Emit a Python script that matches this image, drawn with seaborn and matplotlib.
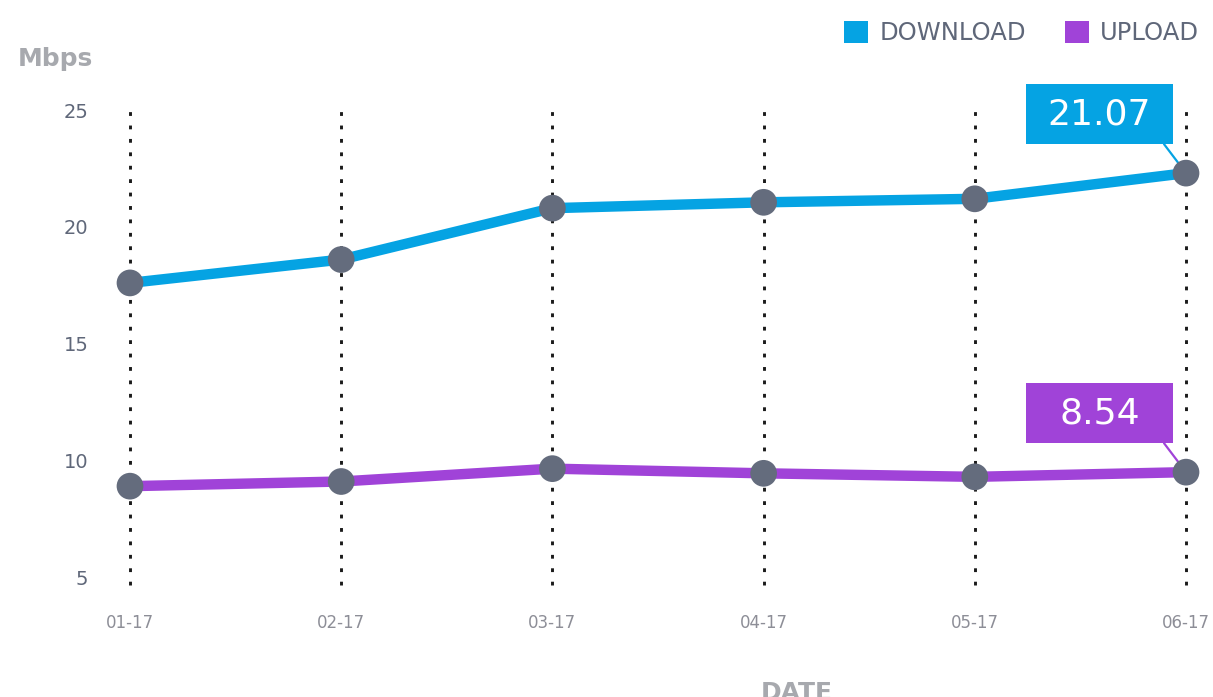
import numpy as np
import pandas as pd
import seaborn as sns
import matplotlib
matplotlib.use("Agg")
import matplotlib.pyplot as plt
from matplotlib.patches import Patch, Rectangle
from matplotlib.lines import Line2D
from matplotlib.transforms import IdentityTransform

# ---- data ----
months = ["01-17", "02-17", "03-17", "04-17", "05-17", "06-17"]
download = [17.6, 18.6, 20.8, 21.05, 21.2, 22.3]
upload = [8.9, 9.1, 9.65, 9.45, 9.3, 9.5]
series_names = ["DOWNLOAD", "UPLOAD"]
callout_labels = ["21.07", "8.54"]
y_ticks = [5, 10, 15, 20, 25]

C_DL = "#05a3e3"
C_UL = "#a043d8"
C_DOT = "#646c7d"
C_TICK = "#5f6779"
C_XTICK = "#8d8e97"
C_TITLE = "#a7a9ae"

sns.set_theme(style="white")
plt.rcParams["font.family"] = ["DejaVu Sans"]

W, H = 1213, 697
fig = plt.figure(figsize=(W / 100, H / 100), dpi=100)
ax = fig.add_axes([130 / W, 112 / H, 1056 / W, 478 / H])

df = pd.DataFrame({
    "month": months * 2,
    "Mbps": download + upload,
    "series": [series_names[0]] * len(months) + [series_names[1]] * len(months),
})

sns.lineplot(data=df, x="month", y="Mbps", hue="series",
             palette={series_names[0]: C_DL, series_names[1]: C_UL},
             linewidth=7.5, sort=False, legend=False, ax=ax, clip_on=False, zorder=3)
sns.scatterplot(data=df, x="month", y="Mbps", color=C_DOT, s=370,
                edgecolor="none", legend=False, ax=ax, clip_on=False, zorder=5)

ax.set_xlim(0, len(months) - 1)
ax.set_ylim(4.67, 25.13)
ax.set_yticks(y_ticks)
ax.set_axisbelow(True)
ax.grid(axis="y", visible=False)
ax.grid(axis="x", color="#1a1a1a", linestyle=(0, (1.3, 3.3)), linewidth=2.1)
for gl in ax.get_xgridlines():
    gl.set_clip_on(False)
sns.despine(ax=ax, left=True, bottom=True)

ax.tick_params(axis="y", length=0, pad=30, labelsize=14, labelcolor=C_TICK)
ax.tick_params(axis="x", length=0, pad=21, labelsize=12, labelcolor=C_XTICK)

ax.set_ylabel("")
ax.set_xlabel("DATE", fontsize=18, fontweight="bold", color=C_TITLE)
ax.xaxis.set_label_coords(0.6316, -0.2008)

fig.text(18 / W, (H - 59) / H, "Mbps", fontsize=18, fontweight="bold",
         color=C_TITLE, ha="left", va="center")

# ---- callout boxes on the last point ----
for vals, lab, col in [(download, callout_labels[0], C_DL), (upload, callout_labels[1], C_UL)]:
    px, py = ax.transData.transform((len(months) - 1, vals[-1]))
    left, bottom, bw, bh = px - 160, py + 29, 147, 60
    ax.add_line(Line2D([px - 22, px], [bottom, py], transform=IdentityTransform(),
                       color=col, linewidth=1.6, clip_on=False, zorder=4))
    ax.add_patch(Rectangle((left, bottom), bw, bh, transform=IdentityTransform(),
                           facecolor=col, edgecolor="none", clip_on=False, zorder=6))
    ax.text(left + bw / 2, bottom + bh / 2, lab, transform=IdentityTransform(),
            ha="center", va="center", color="white", fontsize=26, zorder=7, clip_on=False)

# ---- legend ----
handles = [Patch(facecolor=C_DL, edgecolor="none", label=series_names[0]),
           Patch(facecolor=C_UL, edgecolor="none", label=series_names[1])]
fig.legend(handles=handles, loc="upper right", bbox_to_anchor=(1199 / W, 1 - 21 / H),
           ncol=2, frameon=False, fontsize=17.5, handlelength=1.0, handleheight=1.0,
           handletextpad=0.45, columnspacing=1.6, borderpad=0, borderaxespad=0,
           labelcolor=C_TICK)

fig.savefig("out.png", dpi=100)
